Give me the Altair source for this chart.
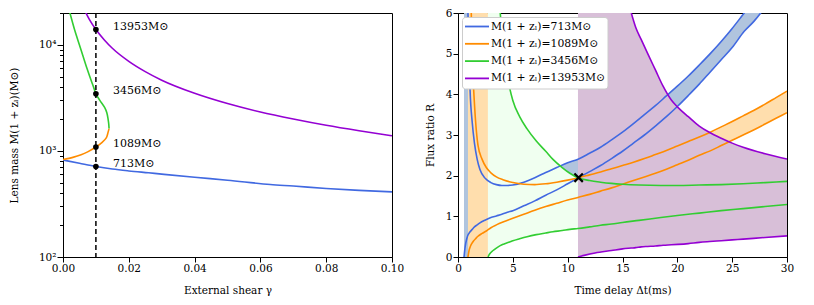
import altair as alt
import pandas as pd

# ---------------- Left panel data ----------------
gamma_blue = [0, 0.005, 0.01, 0.015, 0.02, 0.026, 0.03, 0.04, 0.05, 0.063, 0.07, 0.08, 0.09, 0.1]
mass_blue = [822, 765, 713, 675, 648, 622, 605, 565, 530, 483, 467, 443, 425, 411]

fold_orange_mass = [830, 870, 920, 980, 1089, 1200, 1337, 1500, 1626]
fold_orange_gamma = [0, 0.003, 0.0055, 0.0075, 0.01, 0.0118, 0.0132, 0.0137, 0.0140]
fold_green_mass = [1626, 1800, 2000, 2300, 2570, 3000, 3456, 4000, 4500, 6000, 8000, 10000, 14000, 20000, 23000]
fold_green_gamma = [0.0140, 0.0139, 0.0137, 0.0133, 0.01265, 0.0112, 0.0100, 0.0093, 0.0087, 0.0073, 0.0060, 0.0050, 0.0035, 0.0021, 0.0015]

gamma_purple = [0.0062, 0.008, 0.01, 0.0125, 0.015, 0.02, 0.025, 0.03, 0.04, 0.05, 0.06, 0.07, 0.08, 0.09, 0.1]
mass_purple = [22500, 17400, 13953, 11200, 9300, 7000, 5600, 4650, 3500, 2800, 2330, 2000, 1745, 1550, 1390]

gamma_obs = 0.01
marked_mass = [713, 1089, 3456, 13953]
marked_text = ["713M⊙", "1089M⊙", "3456M⊙", "13953M⊙"]

# ---------------- Right panel data ----------------
labels = ["M(1 + zₗ)=713M⊙", "M(1 + zₗ)=1089M⊙", "M(1 + zₗ)=3456M⊙", "M(1 + zₗ)=13953M⊙"]
line_colors = ["#4169E1", "#FF8C00", "#32CD32", "#9400D3"]
fill_colors = ["#B0C4DE", "#FFDEAD", "#F0FFF0", "#D8BFD8"]

t_blue = [0.55, 0.65, 0.8, 0.91, 1.0, 1.1, 1.3, 1.5, 1.75, 2.0, 2.5, 3, 3.5, 4, 4.5, 5, 6, 7, 8, 9, 10, 11,
          12, 13, 14, 15, 16, 17, 18, 19, 20, 21, 22, 23, 24, 25, 26.1, 27, 27.6, 28]
lo_blue = [0, 0.25, 0.45, 0.54, 0.58, 0.62, 0.68, 0.74, 0.79, 0.84, 0.91, 0.97, 1.01, 1.05, 1.1, 1.14, 1.26,
           1.38, 1.52, 1.65, 1.8, 1.95, 2.1, 2.25, 2.42, 2.6, 2.8, 3.0, 3.22, 3.45, 3.7, 3.97, 4.25, 4.55,
           4.85, 5.15, 5.55, 5.8, 6.0, 6.15]
hi_blue = [30, 30, 30, 6.0, 5.0, 4.1, 3.3, 2.8, 2.4, 2.15, 1.93, 1.83, 1.78, 1.76, 1.76, 1.77, 1.84, 1.95,
           2.08, 2.2, 2.32, 2.41, 2.55, 2.7, 2.88, 3.07, 3.28, 3.5, 3.72, 3.96, 4.2, 4.45, 4.72, 5.0, 5.3,
           5.62, 6.0, 6.3, 6.5, 6.6]

t_orange = [0.91, 1.0, 1.1, 1.21, 1.3, 1.43, 1.6, 1.82, 2.2, 2.58, 3, 3.5, 4.1, 5, 6, 7, 8, 9, 10, 11, 12, 13,
            14, 15, 16, 17, 18, 19, 20, 21, 22, 23, 24, 25, 26, 27, 28, 29, 30]
lo_orange = [0, 0.15, 0.24, 0.31, 0.35, 0.4, 0.45, 0.51, 0.58, 0.64, 0.72, 0.79, 0.86, 0.95, 1.05, 1.15, 1.24,
             1.32, 1.4, 1.47, 1.54, 1.62, 1.7, 1.79, 1.88, 1.97, 2.06, 2.16, 2.27, 2.38, 2.5, 2.61, 2.74,
             2.87, 3.0, 3.13, 3.27, 3.41, 3.55]
hi_orange = [30, 30, 30, 6.0, 4.8, 4.1, 3.35, 2.75, 2.4, 2.2, 2.07, 1.97, 1.9, 1.83, 1.79, 1.78, 1.8, 1.84,
             1.89, 1.95, 2.02, 2.09, 2.17, 2.25, 2.33, 2.42, 2.52, 2.62, 2.73, 2.84, 2.95, 3.07, 3.2, 3.33,
             3.47, 3.61, 3.76, 3.92, 4.08]

t_green = [2.73, 2.9, 3.2, 3.5, 3.85, 4.2, 4.71, 5.0, 5.62, 6.3, 7.14, 8, 8.66, 9.5, 10.2, 10.94, 12, 13, 14,
           15, 16.5, 18.5, 20, 22, 24, 26, 28, 30]
lo_green = [0, 0.08, 0.16, 0.22, 0.28, 0.32, 0.37, 0.4, 0.45, 0.5, 0.55, 0.59, 0.62, 0.65, 0.68, 0.7, 0.74,
            0.78, 0.81, 0.85, 0.9, 0.97, 1.02, 1.08, 1.14, 1.19, 1.24, 1.29]
hi_green = [30, 30, 30, 30, 6.0, 5.0, 4.16, 3.85, 3.45, 3.15, 2.85, 2.6, 2.4, 2.2, 2.06, 1.95, 1.88, 1.84,
            1.81, 1.79, 1.77, 1.76, 1.76, 1.77, 1.78, 1.8, 1.83, 1.86]

t_purple = [10.94, 11.5, 12.5, 14, 15, 15.8, 16.2, 16.7, 17.3, 18, 18.7, 19.45, 20.05, 21, 22, 22.95, 24, 25,
            26, 28, 30]
lo_purple = [0, 0.04, 0.1, 0.16, 0.2, 0.22, 0.23, 0.25, 0.26, 0.27, 0.29, 0.3, 0.31, 0.33, 0.36, 0.38, 0.4,
             0.42, 0.44, 0.48, 0.52]
hi_purple = [30, 30, 30, 30, 30, 6.0, 5.65, 5.35, 5.0, 4.6, 4.2, 3.86, 3.68, 3.45, 3.22, 3.06, 2.92, 2.8,
             2.7, 2.54, 2.41]

strip_start = [0.55, 0.91]
strip_end = [0.91, 2.73]
strip_color = ["#B0C4DE", "#FFDEAD"]

obs_dt = [11.0]
obs_R = [1.95]

FONT = "DejaVu Serif"
FS = 10.5

# ---------------- Left panel ----------------
xl = alt.X("g:Q", scale=alt.Scale(domain=[0, 0.1], nice=False, zero=False),
           axis=alt.Axis(values=[0, 0.02, 0.04, 0.06, 0.08, 0.1], format=".2f", title="External shear γ"))
minor = [200, 300, 400, 500, 600, 700, 800, 900, 2000, 3000, 4000, 5000, 6000, 7000, 8000, 9000, 20000]
decades = [100, 1000, 10000]
yl = alt.Y("m:Q", scale=alt.Scale(type="log", domain=[100, 20000], nice=False),
           axis=alt.Axis(values=decades + minor,
                         labelExpr="datum.value == 100 ? '10²' : datum.value == 1000 ? '10³' : datum.value == 10000 ? '10⁴' : ''",
                         tickSize={"condition": {"test": "datum.value == 100 || datum.value == 1000 || datum.value == 10000", "value": 6}, "value": 3.5},
                         title="Lens mass M(1 + zₗ)(M⊙)", titlePadding=19))

df_lb = pd.DataFrame({"g": gamma_blue, "m": mass_blue})
df_lp = pd.DataFrame({"g": gamma_purple, "m": mass_purple})
df_fo = pd.DataFrame({"g": fold_orange_gamma, "m": fold_orange_mass})
df_fg = pd.DataFrame({"g": fold_green_gamma, "m": fold_green_mass})
df_pts = pd.DataFrame({"g": [gamma_obs] * 4, "m": marked_mass, "txt": marked_text})

l_blue = alt.Chart(df_lb).mark_line(color=line_colors[0], strokeWidth=1.6, clip=True, interpolate="monotone").encode(x=xl, y=yl)
l_purple = alt.Chart(df_lp).mark_line(color=line_colors[3], strokeWidth=1.6, clip=True, interpolate="monotone").encode(x=xl, y=yl)
l_or = alt.Chart(df_fo).mark_line(color=line_colors[1], strokeWidth=1.6, clip=True, interpolate="catmull-rom").encode(x=xl, y=yl, order=alt.Order("m:Q"))
l_gr = alt.Chart(df_fg).mark_line(color=line_colors[2], strokeWidth=1.6, clip=True, interpolate="catmull-rom").encode(x=xl, y=yl, order=alt.Order("m:Q"))
dash = alt.Chart(pd.DataFrame({"g": [gamma_obs]})).mark_rule(color="black", strokeDash=[5, 3], strokeWidth=1.5).encode(x=xl)
pts = alt.Chart(df_pts).mark_circle(color="black", size=32, opacity=1).encode(x=xl, y=yl)
txt = alt.Chart(df_pts).mark_text(align="left", baseline="middle", dx=17, dy=-3, font=FONT, fontSize=11, color="black").encode(x=xl, y=yl, text="txt:N")

left = alt.layer(l_blue, l_or, l_gr, l_purple, dash, pts, txt).properties(width=329, height=244)

# ---------------- Right panel ----------------
xr_scale = alt.Scale(domain=[0, 30], nice=False, zero=False)
yr_scale = alt.Scale(domain=[0, 6], nice=False, zero=False)
xr_axis = alt.Axis(values=[0, 5, 10, 15, 20, 25, 30], title="Time delay Δt(ms)")
yr_axis = alt.Axis(values=[0, 1, 2, 3, 4, 5, 6], title="Flux ratio R", titlePadding=10)

curves = [(t_blue, lo_blue, hi_blue), (t_orange, lo_orange, hi_orange),
          (t_green, lo_green, hi_green), (t_purple, lo_purple, hi_purple)]

bands = []
for i, (t, lo, hi) in enumerate(curves):
    dfb = pd.DataFrame({"t": t, "lo": lo, "hi": hi})
    band = alt.Chart(dfb).mark_area(color=fill_colors[i], opacity=1, clip=True, interpolate="monotone").encode(
        x=alt.X("t:Q", scale=xr_scale, axis=xr_axis),
        y=alt.Y("lo:Q", scale=yr_scale, axis=yr_axis),
        y2="hi:Q")
    bands.append(band)
    if i < 2:
        dfs = pd.DataFrame({"a": [strip_start[i]], "b": [strip_end[i]], "r0": [0], "r1": [6]})
        bands.append(alt.Chart(dfs).mark_rect(color=strip_color[i], opacity=1).encode(
            x=alt.X("a:Q", scale=xr_scale), x2="b:Q", y=alt.Y("r0:Q", scale=yr_scale), y2="r1:Q"))

rows = []
for i, (t, lo, hi) in enumerate(curves):
    for tt, v in zip(t, lo):
        rows.append({"t": tt, "R": v, "label": labels[i], "part": "lo"})
    for tt, v in zip(t, hi):
        if v <= 6.7:
            rows.append({"t": tt, "R": v, "label": labels[i], "part": "hi"})
df_lines = pd.DataFrame(rows)

color_scale = alt.Scale(domain=labels, range=line_colors)
lines = alt.Chart(df_lines).mark_line(strokeWidth=1.6, clip=True, interpolate="monotone").encode(
    x=alt.X("t:Q", scale=xr_scale, axis=xr_axis),
    y=alt.Y("R:Q", scale=yr_scale, axis=yr_axis),
    color=alt.Color("label:N", scale=color_scale, legend=None),
    detail="part:N")

xmark = alt.Chart(pd.DataFrame({"t": obs_dt, "R": obs_R})).mark_point(
    shape="M-1,-1L1,1M1,-1L-1,1", size=70, color="black", strokeWidth=2.2, filled=False, opacity=1).encode(
    x=alt.X("t:Q", scale=xr_scale), y=alt.Y("R:Q", scale=yr_scale))

# legend drawn inside the right panel (pixel placement = styling)
leg_df = pd.DataFrame({"label": labels, "row": list(range(len(labels)))})
leg_df["py"] = 13.5 + 17.3 * leg_df["row"]
leg_bg = alt.Chart(pd.DataFrame({"k": [0]})).mark_rect(
    fill="white", stroke="#cccccc", strokeWidth=1, cornerRadius=3, opacity=1).encode(
    x=alt.value(4.5), x2=alt.value(150), y=alt.value(4.5), y2=alt.value(76))
leg_sym = alt.Chart(leg_df).mark_rule(strokeWidth=1.8).encode(
    x=alt.value(7), x2=alt.value(31), y=alt.Y("py:Q", scale=None),
    color=alt.Color("label:N", scale=color_scale, legend=None))
leg_txt = alt.Chart(leg_df).mark_text(align="left", baseline="middle", font=FONT, fontSize=10.8, color="black").encode(
    x=alt.value(33), y=alt.Y("py:Q", scale=None), text="label:N")

right = alt.layer(*bands, lines, xmark, leg_bg, leg_sym, leg_txt).properties(width=329, height=244)

chart = alt.hconcat(left, right, spacing=66, bounds="flush").properties(
    padding={"left": 0, "top": -1, "right": 0, "bottom": 0}
).configure_view(stroke="black", strokeWidth=1).configure_axis(
    labelFont=FONT, titleFont=FONT, labelFontSize=FS, titleFontSize=FS, titleFontWeight="normal",
    tickColor="black", domainColor="black", labelColor="black", titleColor="black", grid=False,
    tickSize=5, labelPadding=1, labelFlush=False
).configure_axisX(titlePadding=12)

chart.save("out.html", embed_options={"renderer": "svg", "actions": False})
